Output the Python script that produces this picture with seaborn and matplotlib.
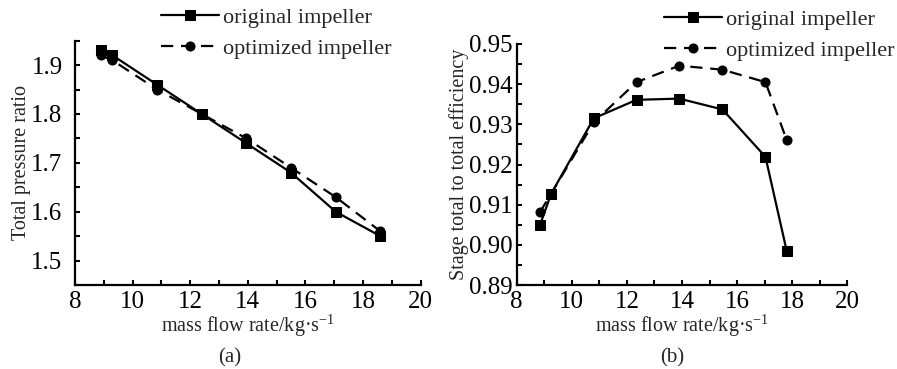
import numpy as np
import pandas as pd
import matplotlib
matplotlib.use("Agg")
import matplotlib.pyplot as plt
from matplotlib.ticker import MultipleLocator
import seaborn as sns

# ---- data ----
flow_a = [8.9, 9.3, 10.85, 12.4, 13.95, 15.5, 17.05, 18.6]
pr_original = [1.93, 1.92, 1.86, 1.80, 1.74, 1.68, 1.60, 1.55]
pr_optimized = [1.92, 1.91, 1.85, 1.80, 1.75, 1.69, 1.63, 1.56]

flow_b = [8.85, 9.25, 10.8, 12.35, 13.9, 15.47, 17.03, 17.8]
eff_original = [0.905, 0.9127, 0.9315, 0.9361, 0.9364, 0.9337, 0.9219, 0.8985]
eff_optimized = [0.9082, 0.9127, 0.9305, 0.9405, 0.9446, 0.9436, 0.9405, 0.9261]

series_names = ["original impeller", "optimized impeller"]
xlabel = "mass flow rate/kg\u00b7s$^{-1}$"
ylabel_a = "Total pressure ratio"
ylabel_b = "Stage total to total efficiency"

sns.set_style("ticks")
plt.rcParams["font.family"] = ["Liberation Serif", "DejaVu Serif"]
plt.rcParams["mathtext.fontset"] = "custom"
plt.rcParams["mathtext.rm"] = "Liberation Serif"
plt.rcParams["mathtext.it"] = "Liberation Serif:italic"
plt.rcParams["mathtext.bf"] = "Liberation Serif:bold"

df_a = pd.DataFrame({
    "flow": flow_a + flow_a,
    "val": pr_original + pr_optimized,
    "series": [series_names[0]] * len(flow_a) + [series_names[1]] * len(flow_a),
})
df_b = pd.DataFrame({
    "flow": flow_b + flow_b,
    "val": eff_original + eff_optimized,
    "series": [series_names[0]] * len(flow_b) + [series_names[1]] * len(flow_b),
})

fig = plt.figure(figsize=(8.97, 3.69), dpi=100)
ax1 = fig.add_axes([0.0836, 0.2276, 0.3854, 0.6621])
ax2 = fig.add_axes([0.5760, 0.2276, 0.3686, 0.6532])

markers = {series_names[0]: "s", series_names[1]: "o"}
dashes = {series_names[0]: "", series_names[1]: (5.5, 3.5)}

tick_fs = 18
label_fs = 14.5

for ax, df, ylab, ylim, ymaj, ymin, ypad in [
    (ax1, df_a, ylabel_a, (1.45, 1.95), 0.1, 0.05, 9),
    (ax2, df_b, ylabel_b, (0.89, 0.95), 0.01, 0.005, 3),
]:
    sns.lineplot(data=df, x="flow", y="val", style="series", markers=markers,
                 dashes=dashes, color="black", linewidth=1.6, markersize=6.5,
                 markeredgecolor="black", ax=ax, legend=True)
    ax.set_xlim(8, 20)
    ax.set_ylim(*ylim)
    ax.xaxis.set_major_locator(MultipleLocator(2))
    ax.xaxis.set_minor_locator(MultipleLocator(1))
    ax.yaxis.set_major_locator(MultipleLocator(ymaj))
    ax.yaxis.set_minor_locator(MultipleLocator(ymin))
    ax.tick_params(which="both", direction="in", length=3.5, width=1.5,
                   labelsize=tick_fs, colors="black")
    ax.tick_params(axis="x", pad=4)
    ax.tick_params(axis="y", pad=ypad)
    for s in ["top", "right"]:
        ax.spines[s].set_visible(False)
    for s in ["left", "bottom"]:
        ax.spines[s].set_linewidth(1.6)
        ax.spines[s].set_color("black")
    ax.set_xlabel(xlabel, fontsize=label_fs, labelpad=0)
    ax.set_ylabel(ylab, fontsize=label_fs, labelpad=0)
    ax.grid(False)
    ax.legend_.remove()

ax1.yaxis.set_major_formatter(plt.FuncFormatter(lambda v, p: f"{v:.1f}"))
ax2.yaxis.set_major_formatter(plt.FuncFormatter(lambda v, p: f"{v:.2f}"))

for ax, anchor in [(ax1, (161 / 897, 1 - 7 / 369)), (ax2, (664 / 897, 1 - 9 / 369))]:
    hh, ll = ax.get_legend_handles_labels()
    fig.legend(hh, ll, loc="upper left", bbox_to_anchor=anchor, frameon=False,
               fontsize=16, handlelength=2.6, handletextpad=0.2,
               labelspacing=0.5, borderpad=0, borderaxespad=0)

fig.text(230 / 897, 1 - 358 / 369, "(a)", ha="center", va="center", fontsize=15)
fig.text(672 / 897, 1 - 358 / 369, "(b)", ha="center", va="center", fontsize=15)

fig.savefig("out.png", dpi=100)
